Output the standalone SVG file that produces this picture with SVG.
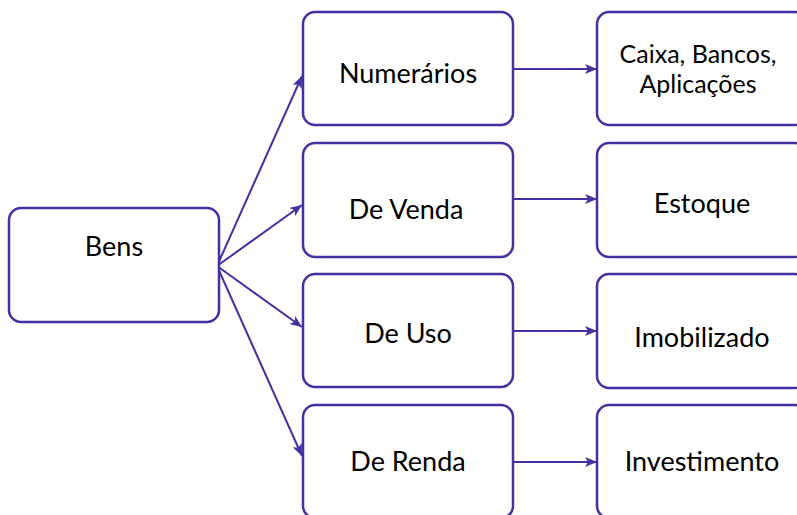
<svg xmlns="http://www.w3.org/2000/svg" width="797" height="515" viewBox="0 0 797 515">
<defs>
<style>
.box{fill:#fff;stroke:#4032a0;stroke-width:2.5}
.lbl{font-family:Lato,"Open Sans",sans-serif;font-size:27px;fill:#000;text-anchor:middle}
.sm{font-size:25px}
.edge{stroke:#4032a0;stroke-width:2;fill:none;marker-end:url(#ah)}
</style>
<marker id="ah" viewBox="0 0 12 10" refX="12" refY="5" markerWidth="12" markerHeight="10" markerUnits="userSpaceOnUse" orient="auto">
<path d="M0,0 L12,5 L0,10 L3,5 Z" fill="#4032a0"/>
</marker>
</defs>
<rect width="797" height="515" fill="#fff"/>
<g id="connectors">
<line class="edge" x1="217" y1="266" x2="302" y2="76"/>
<line class="edge" x1="217" y1="266" x2="302" y2="205"/>
<line class="edge" x1="217" y1="266" x2="302" y2="327"/>
<line class="edge" x1="217" y1="266" x2="302" y2="456"/>
<line class="edge" x1="513" y1="69" x2="597" y2="69"/>
<line class="edge" x1="513" y1="199" x2="597" y2="199"/>
<line class="edge" x1="513" y1="331" x2="597" y2="331"/>
<line class="edge" x1="513" y1="462" x2="597" y2="462"/>
</g>
<g id="bens"><rect class="box" x="9" y="208" width="210" height="114" rx="12"/><text class="lbl" x="114" y="256">Bens</text></g>
<g id="numerarios"><rect class="box" x="303" y="12" width="210" height="113" rx="12"/><text class="lbl" x="408" y="83">Numerários</text></g>
<g id="devenda"><rect class="box" x="303" y="143" width="210" height="114" rx="12"/><text class="lbl" x="406" y="219">De Venda</text></g>
<g id="deuso"><rect class="box" x="303" y="274" width="210" height="113" rx="12"/><text class="lbl" x="408" y="343">De Uso</text></g>
<g id="derenda"><rect class="box" x="303" y="405" width="210" height="113" rx="12"/><text class="lbl" x="408" y="471">De Renda</text></g>
<g id="caixa"><rect class="box" x="597" y="12" width="210" height="113" rx="12"/><text class="lbl sm" x="698" y="63">Caixa, Bancos,</text><text class="lbl sm" x="698" y="93">Aplicações</text></g>
<g id="estoque"><rect class="box" x="597" y="143" width="210" height="114" rx="12"/><text class="lbl" x="702" y="213">Estoque</text></g>
<g id="imobilizado"><rect class="box" x="597" y="274" width="210" height="114" rx="12"/><text class="lbl" x="702" y="347">Imobilizado</text></g>
<g id="investimento"><rect class="box" x="597" y="405" width="210" height="113" rx="12"/><text class="lbl" x="702" y="471">Investimento</text></g>
</svg>
